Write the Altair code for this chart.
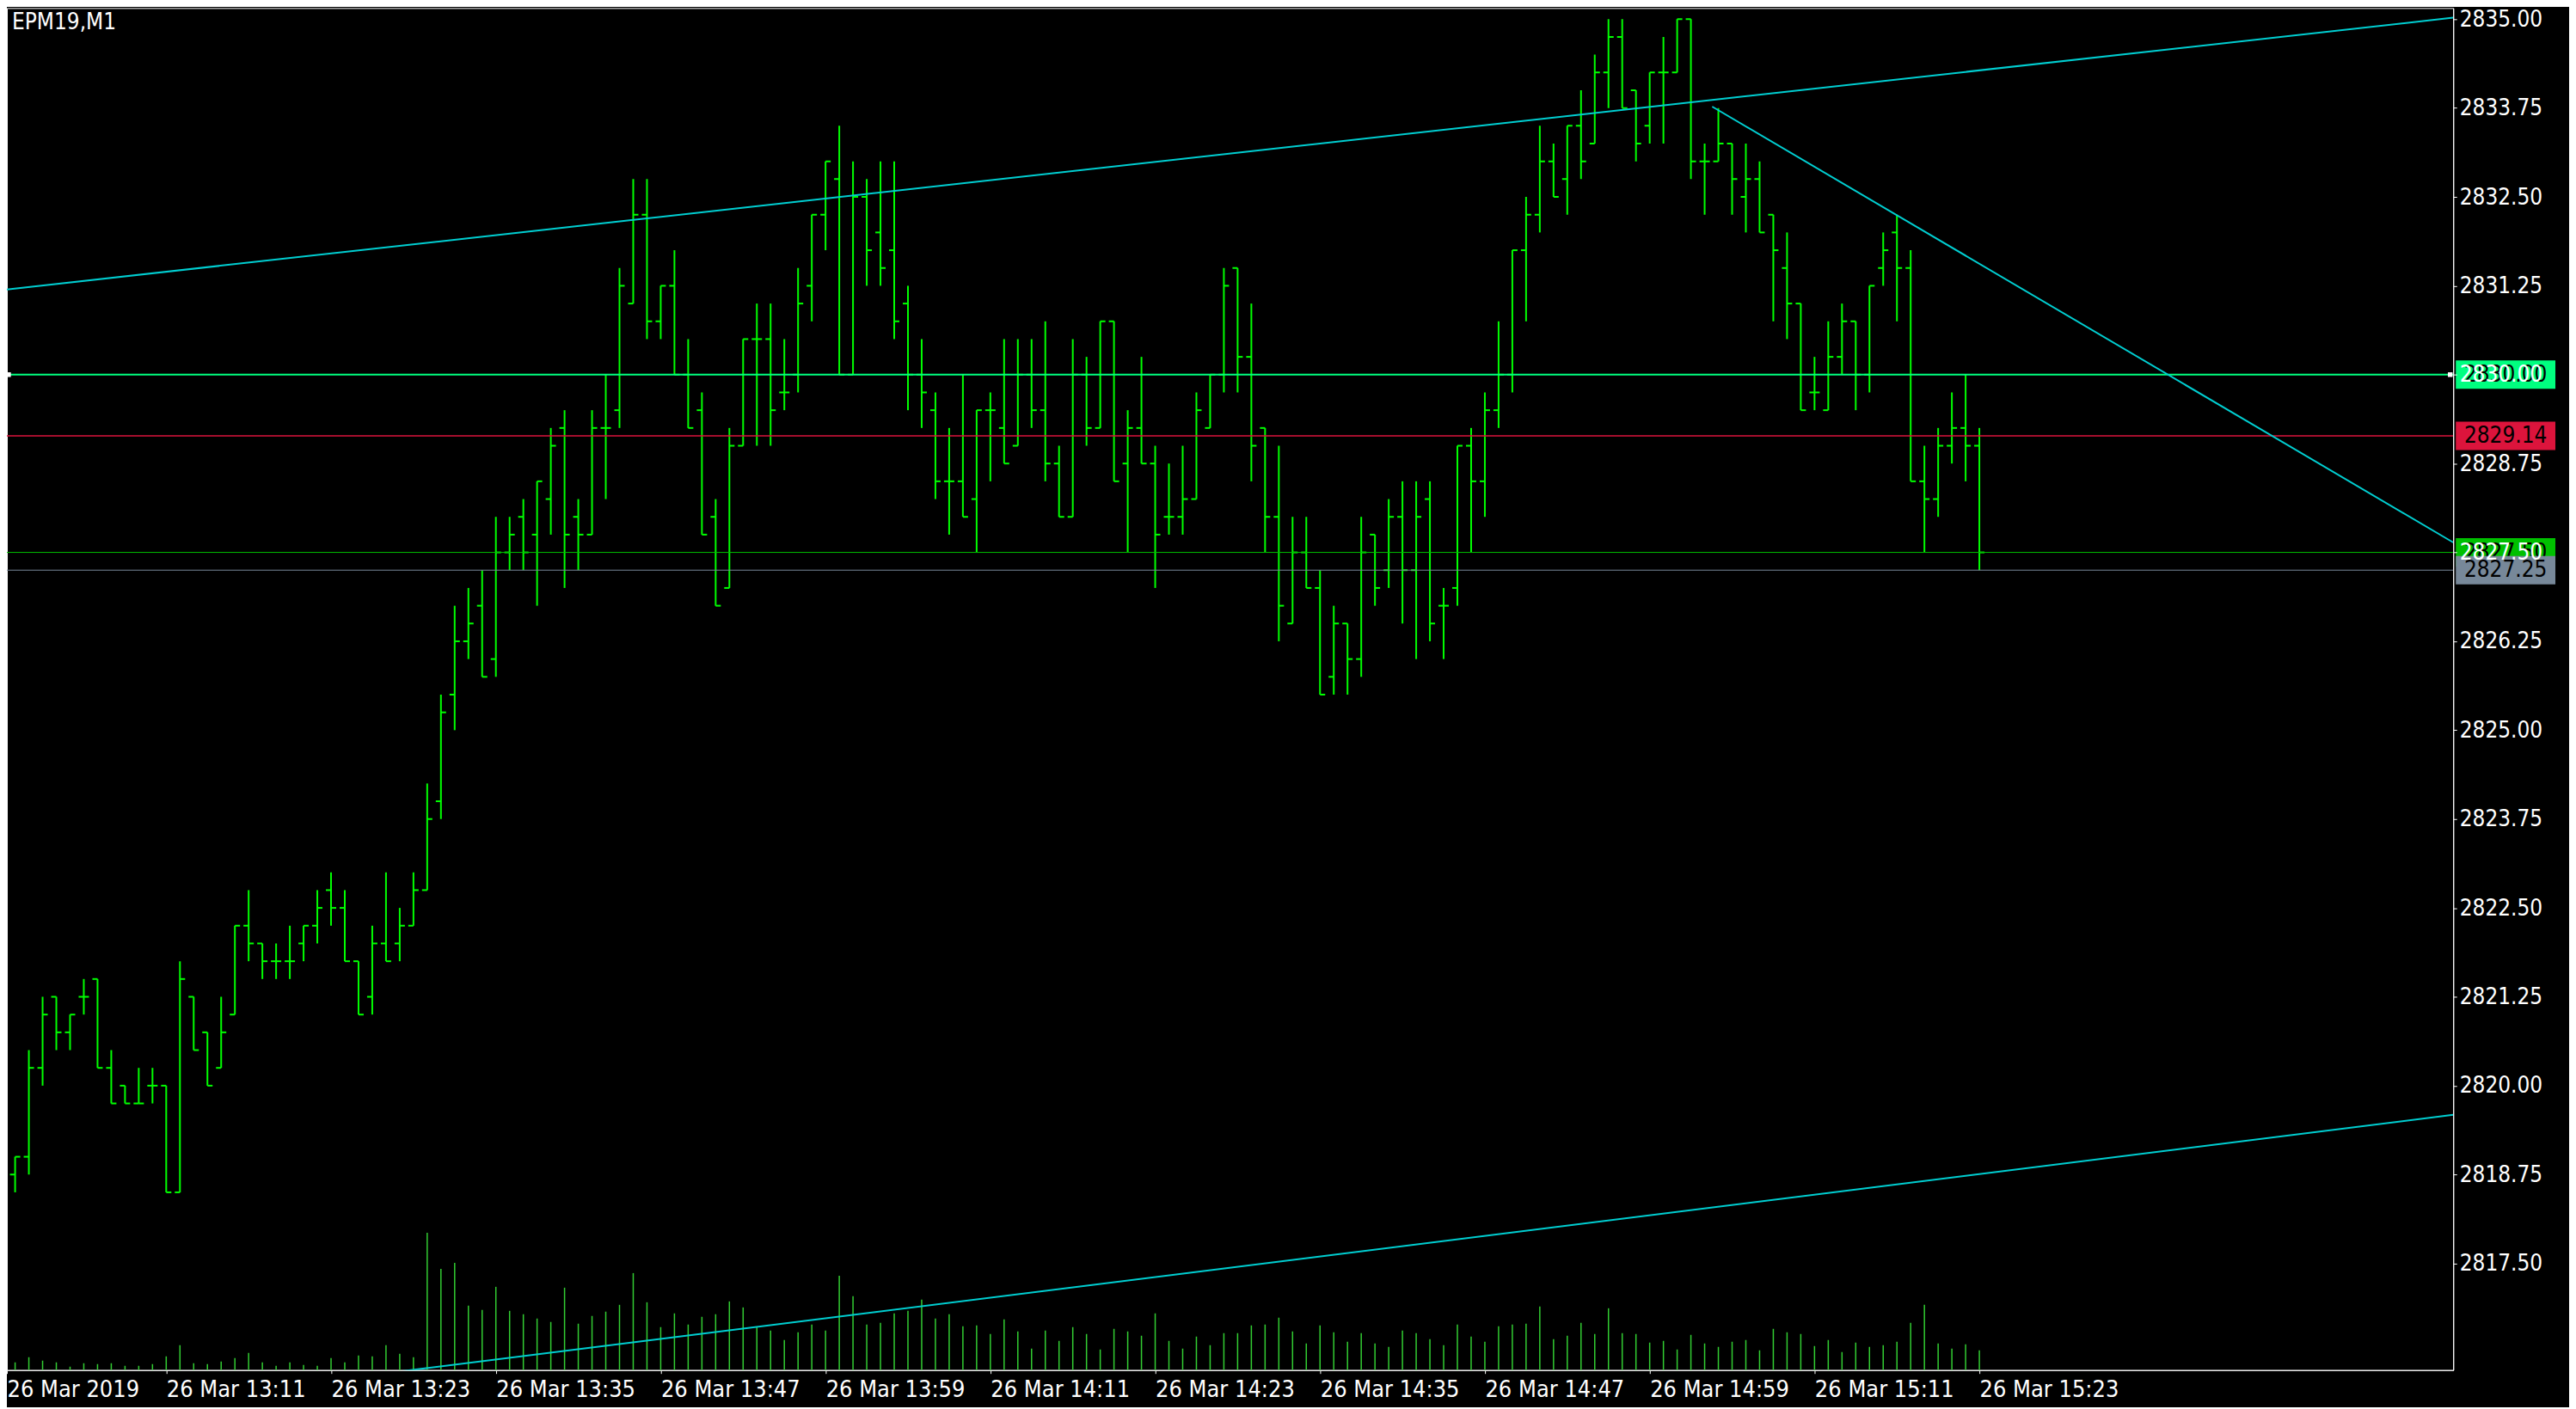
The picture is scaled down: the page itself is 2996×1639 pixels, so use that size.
import altair as alt
import pandas as pd

FONT = "DejaVu Sans Condensed, DejaVu Sans, sans-serif"
symbol_label = "EPM19,M1"

# bar index 0 = 26 Mar 12:59, one bar per minute (M1) up to 15:23
bar_index = list(range(145))
opens = [2818.75, 2818.75, 2819.0, 2820.25, 2821.25, 2820.75, 2821.25, 2821.5, 2820.25, 2820.0,
         2819.75, 2820.0, 2820.0, 2818.5, 2821.25, 2820.75, 2820.25, 2821.0, 2822.25, 2822.0,
         2821.75, 2821.75, 2822.0, 2822.25, 2822.75, 2822.5, 2821.75, 2821.25, 2822.0, 2822.0,
         2822.25, 2822.75, 2824.0, 2825.5, 2826.25, 2826.75, 2826.0, 2827.5, 2828.0, 2827.75,
         2828.25, 2829.25, 2828.0, 2827.75, 2829.25, 2829.5, 2831.0, 2832.25, 2830.75, 2831.25,
         2830.0, 2829.5, 2828.0, 2827.0, 2829.0, 2830.5, 2830.5, 2829.75, 2830.0, 2831.25,
         2832.25, 2832.75, 2830.0, 2832.5, 2832.0, 2831.75, 2831.0, 2830.0, 2829.5, 2828.5,
         2828.5, 2828.25, 2829.5, 2829.25, 2829.0, 2830.0, 2829.5, 2828.75, 2828.0, 2830.0,
         2829.25, 2830.75, 2828.75, 2829.25, 2828.75, 2828.0, 2828.0, 2828.25, 2829.25, 2830.0,
         2831.5, 2830.25, 2829.25, 2828.0, 2826.5, 2827.5, 2827.0, 2825.75, 2826.5, 2826.0,
         2827.75, 2827.25, 2828.0, 2827.25, 2828.25, 2826.75, 2827.0, 2829.0, 2828.5, 2829.5,
         2830.0, 2831.75, 2832.25, 2833.0, 2832.75, 2833.5, 2833.25, 2834.25, 2834.75, 2834.0,
         2833.5, 2834.25, 2834.25, 2835.0, 2833.0, 2833.0, 2833.25, 2832.5, 2832.75, 2832.25,
         2831.5, 2831.0, 2829.75, 2829.5, 2830.25, 2830.75, 2830.0, 2831.5, 2832.0, 2831.5,
         2828.5, 2828.25, 2829.0, 2829.25, 2829.0]
highs = [2819.0, 2819.0, 2820.5, 2821.25, 2821.25, 2821.0, 2821.5, 2821.5, 2820.5, 2820.0,
         2820.25, 2820.25, 2820.0, 2821.75, 2821.25, 2820.75, 2821.25, 2822.25, 2822.75, 2822.0,
         2822.0, 2822.25, 2822.25, 2822.75, 2823.0, 2822.75, 2821.75, 2822.25, 2823.0, 2822.5,
         2823.0, 2824.25, 2825.5, 2826.75, 2827.0, 2827.25, 2828.0, 2828.0, 2828.25, 2828.5,
         2829.25, 2829.5, 2828.25, 2829.5, 2830.0, 2831.5, 2832.75, 2832.75, 2831.25, 2831.75,
         2830.5, 2829.75, 2828.25, 2829.25, 2830.5, 2831.0, 2831.0, 2830.5, 2831.5, 2832.25,
         2833.0, 2833.5, 2833.0, 2832.75, 2833.0, 2833.0, 2831.25, 2830.5, 2829.75, 2829.25,
         2830.0, 2829.5, 2829.75, 2830.5, 2830.5, 2830.5, 2830.75, 2829.0, 2830.5, 2830.25,
         2830.75, 2830.75, 2829.5, 2830.25, 2829.0, 2828.75, 2829.0, 2829.75, 2830.0, 2831.5,
         2831.5, 2831.0, 2829.25, 2829.0, 2828.0, 2828.0, 2827.25, 2826.75, 2826.5, 2828.0,
         2827.75, 2828.25, 2828.5, 2828.5, 2828.5, 2827.0, 2829.0, 2829.25, 2829.75, 2830.75,
         2831.75, 2832.5, 2833.5, 2833.25, 2833.5, 2834.0, 2834.5, 2835.0, 2835.0, 2834.0,
         2834.25, 2834.75, 2835.0, 2835.0, 2833.25, 2833.75, 2833.25, 2833.25, 2833.0, 2832.25,
         2832.0, 2831.0, 2830.25, 2830.75, 2831.0, 2830.75, 2831.25, 2832.0, 2832.25, 2831.75,
         2829.0, 2829.25, 2829.75, 2830.0, 2829.25]
lows = [2818.5, 2818.5, 2818.75, 2820.0, 2820.5, 2820.5, 2821.0, 2820.25, 2819.75, 2819.75,
        2819.75, 2819.75, 2818.5, 2818.5, 2820.5, 2820.0, 2820.25, 2821.0, 2821.75, 2821.5,
        2821.5, 2821.5, 2821.75, 2822.0, 2822.25, 2821.75, 2821.0, 2821.0, 2821.75, 2821.75,
        2822.25, 2822.75, 2823.75, 2825.0, 2826.0, 2825.75, 2825.75, 2827.25, 2827.25, 2826.75,
        2827.75, 2827.0, 2827.25, 2827.75, 2828.25, 2829.25, 2831.0, 2830.5, 2830.5, 2830.0,
        2829.25, 2827.75, 2826.75, 2827.0, 2829.0, 2829.0, 2829.0, 2829.5, 2829.75, 2830.75,
        2831.75, 2830.0, 2830.0, 2831.25, 2831.25, 2830.5, 2829.5, 2829.25, 2828.25, 2827.75,
        2828.0, 2827.5, 2828.5, 2828.75, 2829.0, 2829.25, 2828.5, 2828.0, 2828.0, 2829.0,
        2829.25, 2828.5, 2827.5, 2828.75, 2827.0, 2827.75, 2827.75, 2828.25, 2829.25, 2829.75,
        2829.75, 2828.5, 2827.5, 2826.25, 2826.5, 2827.0, 2825.5, 2825.5, 2825.5, 2825.75,
        2826.75, 2827.0, 2826.5, 2826.0, 2826.25, 2826.0, 2826.75, 2827.5, 2828.0, 2829.25,
        2829.75, 2830.75, 2832.0, 2832.5, 2832.25, 2832.75, 2833.25, 2833.75, 2833.75, 2833.0,
        2833.25, 2833.25, 2834.25, 2832.75, 2832.25, 2833.0, 2832.25, 2832.0, 2832.0, 2830.75,
        2830.5, 2829.5, 2829.5, 2829.5, 2830.0, 2829.5, 2829.75, 2831.25, 2830.75, 2828.5,
        2827.5, 2828.0, 2828.75, 2828.5, 2827.25]
closes = [2818.5, 2819.0, 2820.25, 2821.0, 2820.75, 2821.0, 2821.25, 2820.25, 2819.75, 2819.75,
          2819.75, 2820.0, 2818.5, 2821.5, 2820.5, 2820.0, 2820.75, 2822.25, 2822.0, 2821.75,
          2821.75, 2821.75, 2822.25, 2822.5, 2822.5, 2821.75, 2821.0, 2822.0, 2821.75, 2822.25,
          2822.75, 2823.75, 2825.25, 2826.25, 2826.5, 2825.75, 2827.5, 2827.75, 2827.5, 2828.5,
          2829.0, 2827.75, 2827.75, 2829.25, 2829.25, 2831.25, 2832.25, 2830.75, 2831.25, 2830.0,
          2829.25, 2827.75, 2826.75, 2829.0, 2830.5, 2830.5, 2829.5, 2829.75, 2831.0, 2832.25,
          2833.0, 2830.0, 2832.5, 2831.75, 2831.5, 2830.75, 2830.0, 2829.75, 2828.5, 2828.5,
          2828.0, 2829.5, 2829.5, 2828.75, 2830.0, 2829.5, 2828.75, 2828.0, 2830.0, 2829.25,
          2830.75, 2828.5, 2829.25, 2828.75, 2827.75, 2828.0, 2828.25, 2829.5, 2830.0, 2831.25,
          2830.25, 2829.0, 2828.0, 2826.75, 2827.5, 2827.0, 2825.5, 2826.5, 2826.0, 2827.5,
          2827.0, 2828.0, 2827.25, 2828.0, 2826.5, 2826.75, 2829.0, 2828.5, 2829.5, 2830.0,
          2831.75, 2832.25, 2833.0, 2832.5, 2833.5, 2833.0, 2834.25, 2834.75, 2833.75, 2833.25,
          2834.25, 2834.25, 2835.0, 2833.0, 2833.0, 2833.25, 2832.75, 2832.75, 2832.0, 2831.75,
          2831.0, 2829.5, 2829.75, 2830.25, 2830.75, 2830.0, 2831.25, 2831.75, 2831.5, 2828.5,
          2828.25, 2829.0, 2829.25, 2829.0, 2827.5]
volumes = [15, 27, 45, 33, 27, 12, 24, 21, 24, 15,
           15, 21, 48, 87, 24, 21, 30, 42, 60, 27,
           15, 27, 18, 15, 42, 27, 51, 48, 87, 57,
           45, 480, 354, 375, 225, 210, 291, 207, 195, 180,
           168, 288, 162, 189, 204, 228, 339, 237, 150, 198,
           159, 186, 195, 240, 219, 150, 138, 105, 132, 159,
           138, 330, 258, 159, 165, 198, 207, 246, 180, 195,
           153, 156, 126, 177, 135, 75, 138, 102, 150, 126,
           72, 144, 135, 120, 198, 102, 75, 117, 87, 129,
           129, 156, 159, 183, 135, 93, 156, 132, 99, 129,
           93, 81, 138, 129, 108, 87, 159, 117, 99, 153,
           159, 162, 222, 108, 120, 165, 126, 216, 129, 126,
           96, 102, 72, 123, 93, 81, 99, 105, 69, 144,
           132, 126, 84, 105, 63, 96, 81, 87, 99, 165,
           228, 93, 75, 90, 69]

time_tick_bars = [0.4, 12, 24, 36, 48, 60, 72, 84, 96, 108, 120, 132, 144]
time_tick_labels = ["26 Mar 2019", "26 Mar 13:11", "26 Mar 13:23", "26 Mar 13:35",
                    "26 Mar 13:47", "26 Mar 13:59", "26 Mar 14:11", "26 Mar 14:23",
                    "26 Mar 14:35", "26 Mar 14:47", "26 Mar 14:59", "26 Mar 15:11",
                    "26 Mar 15:23"]
price_ticks = [2817.50, 2818.75, 2820.00, 2821.25, 2822.50, 2823.75, 2825.00, 2826.25,
               2827.50, 2828.75, 2830.00, 2831.25, 2832.50, 2833.75, 2835.00]

level_prices = [2830.00, 2829.14, 2827.50, 2827.25]
level_labels = ["2830.00", "2829.14", "2827.50", "2827.25"]
level_colors = ["#00FF7F", "#DC143C", "#00C000", "#778899"]
level_widths = [2, 1.5, 1, 1]

trend_names = ["upper", "upper", "lower", "lower", "down", "down"]
trend_bars = [0.0, 178.5, 0.0, 178.5, 124.55, 178.5]
trend_prices = [2831.19, 2835.02, 2815.28, 2819.59, 2833.77, 2827.64]

anchor_bars = [0.52, 178.28]
anchor_prices = [2830.00, 2830.00]

W, H = 2850, 1587
X_DOMAIN = [0.4, 178.5]
Y_DOMAIN = [2816.0, 2835.156]
VOL_DOMAIN = [0, 4761]

bars_df = pd.DataFrame({"k": bar_index, "open": opens, "high": highs, "low": lows,
                        "close": closes, "vol": volumes})
levels_df = pd.DataFrame({"price": level_prices, "label": level_labels,
                          "color": level_colors, "w": level_widths,
                          "order": list(range(len(level_prices)))})
trend_df = pd.DataFrame({"name": trend_names, "k": trend_bars, "price": trend_prices})
anchor_df = pd.DataFrame({"k": anchor_bars, "price": anchor_prices})
sym_df = pd.DataFrame({"t": [symbol_label]})

label_array = "[" + ",".join("'" + s + "'" for s in time_tick_labels) + "]"

xscale = alt.Scale(domain=X_DOMAIN, nice=False, zero=False)
yscale = alt.Scale(domain=Y_DOMAIN, nice=False, zero=False)

xaxis = alt.Axis(values=time_tick_bars, labelExpr=label_array + "[round(datum.value/12)]",
                 title=None, grid=False, tickSize=4, tickColor="white", tickWidth=1,
                 domainColor="white", labelColor="white", labelFont=FONT, labelFontSize=27,
                 labelAlign="left", labelBaseline="top", labelPadding=6,
                 labelOverlap=False, labelFlush=False)
yaxis = alt.Axis(orient="right", values=price_ticks, format=".2f", title=None, grid=False,
                 tickSize=4, tickColor="white", tickWidth=1, domainColor="white",
                 labelColor="white", labelFont=FONT, labelFontSize=26, labelPadding=3,
                 labelAlign="left", labelBaseline="middle", labelOverlap=False,
                 labelFlush=False, zindex=1)

X = alt.X("k:Q", scale=xscale, axis=xaxis)


def Yp(field):
    return alt.Y(field + ":Q", scale=yscale, axis=yaxis)


base = alt.Chart(bars_df)

hl = base.mark_rule(clip=True, color="#00FF00", strokeWidth=2).encode(
    x=X, y=Yp("low"), y2="high:Q")
open_tick = base.mark_tick(clip=True, color="#00FF00", orient="horizontal", size=6,
                           thickness=2, xOffset=-3, opacity=1).encode(x=X, y=Yp("open"))
close_tick = base.mark_tick(clip=True, color="#00FF00", orient="horizontal", size=6,
                            thickness=2, xOffset=3, opacity=1).encode(x=X, y=Yp("close"))

levels = alt.Chart(levels_df).mark_rule().encode(
    y=Yp("price"), color=alt.Color("color:N", scale=None),
    strokeWidth=alt.StrokeWidth("w:Q", scale=None))

trends = alt.Chart(trend_df).mark_line(clip=True, color="#00CED1", strokeWidth=2).encode(
    x=X, y=Yp("price"), detail="name:N")

anchors = alt.Chart(anchor_df).mark_square(size=30, color="white", opacity=1, filled=True).encode(
    x=X, y=Yp("price"))

box_style = dict(orient="horizontal", size=116, thickness=33, opacity=1)
text_style = dict(font=FONT, fontSize=26, color="black", align="center", baseline="middle")

boxes_a = alt.Chart(levels_df).transform_filter("datum.order < 3").mark_tick(**box_style).encode(
    x=alt.value(W + 61), y=Yp("price"), color=alt.Color("color:N", scale=None))
texts_a = alt.Chart(levels_df).transform_filter("datum.order < 3").mark_text(**text_style).encode(
    x=alt.value(W + 61), y=Yp("price"), text="label:N")
boxes_b = alt.Chart(levels_df).transform_filter("datum.order == 3").mark_tick(**box_style).encode(
    x=alt.value(W + 61), y=Yp("price"), color=alt.Color("color:N", scale=None))
texts_b = alt.Chart(levels_df).transform_filter("datum.order == 3").mark_text(**text_style).encode(
    x=alt.value(W + 61), y=Yp("price"), text="label:N")

sym = alt.Chart(sym_df).mark_text(font=FONT, fontSize=26, color="white", align="left",
                                  baseline="alphabetic").encode(
    x=alt.value(6), y=alt.value(25), text="t:N")

price_group = alt.layer(hl, open_tick, close_tick, levels, trends, anchors,
                        boxes_a, texts_a, boxes_b, texts_b, sym)

vol = base.mark_rule(clip=True, color="#32CD32", strokeWidth=1.5).encode(
    x=X,
    y=alt.Y("vol:Q", scale=alt.Scale(domain=VOL_DOMAIN, nice=False, zero=True), axis=None),
    y2=alt.datum(0))

chart = alt.layer(vol, price_group).resolve_scale(y="independent").properties(
    width=W, height=H,
    autosize=alt.AutoSizeParams(type="none"),
    padding={"left": 0, "top": 0, "right": 135, "bottom": 42},
    background="#000000",
).configure_view(stroke="white", strokeWidth=1)

chart.save("out.html", embed_options={"renderer": "svg", "actions": False})
